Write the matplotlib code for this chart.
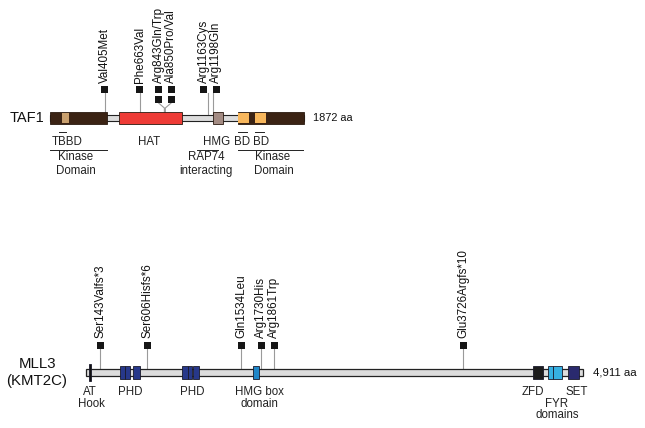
import matplotlib
matplotlib.use("Agg")
import matplotlib.pyplot as plt
from matplotlib.patches import Rectangle

plt.rcParams['font.family'] = ['Liberation Sans', 'DejaVu Sans']

W, H = 645, 428

# ---------------- DATA ----------------
taf1_name = "TAF1"
taf1_length = 1872
taf1_domain_names = ["Kinase N", "TBBD", "HAT", "HMG", "Kinase C", "BD1", "BD2"]
taf1_domain_starts = [0, 88, 508, 1201, 1385, 1385, 1511]
taf1_domain_ends = [420, 140, 973, 1275, 1872, 1467, 1592]
taf1_domain_colors = ["#3b2314", "#c9a06e", "#ee3b36", "#a38b83", "#3b2314", "#f8b75c", "#f8b75c"]
taf1_domain_inset = [False, True, False, False, False, True, True]

taf1_mut_labels = ["Val405Met", "Phe663Val", "Arg843Gln/Trp", "Ala850Pro/Val", "Arg1163Cys", "Arg1198Gln"]
taf1_mut_pos = [405, 663, 843, 850, 1163, 1198]
taf1_mut_count = [1, 1, 2, 2, 1, 1]

mll3_name = "MLL3\n(KMT2C)"
mll3_length = 4911
mll3_domain_names = ["AT hook", "PHD1a", "PHD1b", "PHD2", "PHD3", "PHD4", "PHD5", "HMG", "ZFD", "FYRN", "FYRC", "SET"]
mll3_domain_starts = [25, 336, 386, 464, 949, 1008, 1057, 1650, 4417, 4565, 4615, 4763]
mll3_domain_ends = [45, 386, 435, 534, 1008, 1047, 1117, 1710, 4516, 4615, 4704, 4872]
mll3_domain_colors = ["#111111", "#27388a", "#27388a", "#27388a", "#27388a", "#27388a", "#27388a",
                      "#1f86c8", "#1c1c1c", "#36b0e2", "#36b0e2", "#2a2a6e"]

mll3_mut_labels = ["Ser143Valfs*3", "Ser606Hisfs*6", "Gln1534Leu", "Arg1730His", "Arg1861Trp", "Glu3726Argfs*10"]
mll3_mut_pos = [143, 606, 1534, 1730, 1861, 3726]
mll3_mut_count = [1, 1, 1, 1, 1, 1]

# annotation text: (label, aa position, row)
taf1_notes = [("TBBD", 125, 0), ("HAT", 730, 0), ("HMG", 1231, 0), ("BD", 1418, 0), ("BD", 1552, 0),
              ("Kinase", 190, 1), ("Domain", 190, 2), ("RAP74", 1150, 1), ("interacting", 1150, 2),
              ("Kinase", 1643, 1), ("Domain", 1650, 2)]
taf1_short_lines = [(70, 118), (1385, 1452), (1511, 1577)]
taf1_long_lines = [(0, 420), (1083, 1238), (1385, 1872)]

mll3_notes = [("AT", 40, 0), ("Hook", 49, 1), ("PHD", 435, 0), ("PHD", 1047, 0),
              ("HMG box", 1709, 0), ("domain", 1709, 1), ("ZFD", 4417, 0), ("SET", 4852, 0),
              ("FYR", 4654, 1), ("domains", 4654, 2)]

fig = plt.figure(figsize=(W / 100, H / 100), dpi=100)


def make_axes(left_px, right_px, length, center_px):
    ax = fig.add_axes([left_px / W, 0, (right_px - left_px) / W, 1])
    ax.set_xlim(0, length)
    ax.set_ylim(H - center_px, -center_px)
    ax.axis("off")
    return ax, (right_px - left_px) / length


def spread(pos_px, gap):
    out = list(pos_px)
    i = 0
    n = len(out)
    while i < n:
        j = i
        while j + 1 < n and out[j + 1] - out[j] < gap:
            j += 1
        if j > i:
            m = sum(out[i:j + 1]) / (j - i + 1)
            k = j - i + 1
            for t in range(k):
                out[i + t] = m + (t - (k - 1) / 2) * gap
        i = j + 1
    return out


def draw_mutations(ax, ppa, pos, labels, counts, sq_top, sq_size, gap, fs):
    px = [p * ppa for p in pos]
    sx = [v / ppa for v in spread(px, gap)]
    sw = sq_size / ppa
    for p, x, lab, c in zip(pos, sx, labels, counts):
        lowest = sq_top + (c - 1) * (sq_size + 3.5)
        bottom = lowest + sq_size / 2
        if abs(x - p) * ppa > 4:
            ax.plot([p, p, x], [-3, -10, bottom], color="#9a9a9a", lw=0.8, zorder=1)
        else:
            ax.plot([p, p], [-3, bottom], color="#9a9a9a", lw=0.8, zorder=1)
        for k in range(c):
            yc = sq_top + k * (sq_size + 3.5)
            ax.add_patch(Rectangle((x - sw / 2, yc - sq_size / 2), sw, sq_size,
                                   facecolor="#161616", edgecolor="none", zorder=3, clip_on=False))
        ax.text(x, sq_top - sq_size / 2 - 3, lab, rotation=90, ha="center", va="bottom",
                fontsize=fs, color="#111111")


# ---------------- TAF1 ----------------
ax1, ppa1 = make_axes(50, 304, taf1_length, 118)
ax1.add_patch(Rectangle((0, -3), taf1_length, 6, facecolor="#dcdcdc", edgecolor="#222222",
                        lw=0.8, zorder=2, clip_on=False))
for s, e, col, ins in zip(taf1_domain_starts, taf1_domain_ends, taf1_domain_colors, taf1_domain_inset):
    h = 10 if ins else 12
    ax1.add_patch(Rectangle((s, -h / 2), e - s, h, facecolor=col,
                            edgecolor="none" if ins else "#2a1a10", lw=0.6,
                            zorder=5 if ins else 4, clip_on=False))
draw_mutations(ax1, ppa1, taf1_mut_pos, taf1_mut_labels, taf1_mut_count,
               sq_top=-29, sq_size=7, gap=12.5, fs=8.4)
ax1.text(-44, 0, taf1_name, ha="right", va="center", fontsize=10.5, color="#111111")
ax1.annotate("1872 aa", xy=(taf1_length, 0), xytext=(9, 0), textcoords="offset pixels",
             ha="left", va="center", fontsize=7.9, color="#111111")
rows1 = [24, 39, 53]
for lab, x, r in taf1_notes:
    ax1.text(x, rows1[r], lab, ha="center", va="center", fontsize=8.3, color="#222222")
for a, b in taf1_short_lines:
    ax1.plot([a, b], [14, 14], color="#222222", lw=0.7)
for a, b in taf1_long_lines:
    ax1.plot([a, b], [32, 32], color="#222222", lw=0.7)

# ---------------- MLL3 ----------------
ax2, ppa2 = make_axes(86, 583, mll3_length, 372.5)
ax2.add_patch(Rectangle((0, -3.5), mll3_length, 7, facecolor="#dcdcdc", edgecolor="#222222",
                        lw=0.9, zorder=2, clip_on=False))
for name, s, e, col in zip(mll3_domain_names, mll3_domain_starts, mll3_domain_ends, mll3_domain_colors):
    h = 17 if name == "AT hook" else 13
    ax2.add_patch(Rectangle((s, -h / 2), e - s, h, facecolor=col, edgecolor="#1a1a2a",
                            lw=0.6, zorder=4, clip_on=False))
draw_mutations(ax2, ppa2, mll3_mut_pos, mll3_mut_labels, mll3_mut_count,
               sq_top=-27.5, sq_size=7, gap=12, fs=8.4)
ax2.text(-484, 0, mll3_name, ha="center", va="center", fontsize=10.8, color="#111111",
         linespacing=1.25)
ax2.annotate("4,911 aa", xy=(mll3_length, 0), xytext=(10, 0), textcoords="offset pixels",
             ha="left", va="center", fontsize=8.2, color="#111111")
rows2 = [19.5, 31.5, 42.5]
for lab, x, r in mll3_notes:
    ax2.text(x, rows2[r], lab, ha="center", va="center", fontsize=8.3, color="#222222")

fig.savefig("out.png", dpi=100, facecolor="white")
